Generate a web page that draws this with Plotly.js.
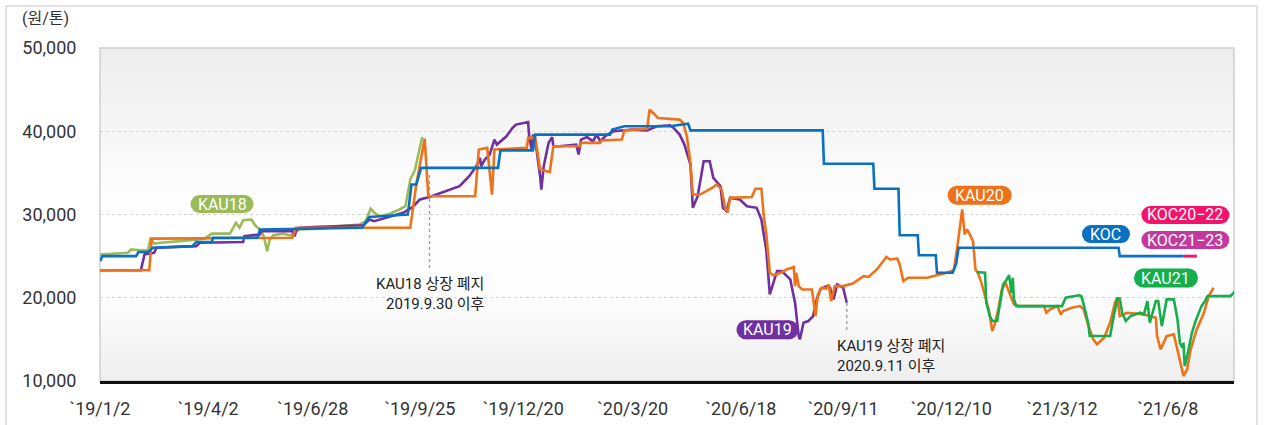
<!DOCTYPE html>
<html>
<head>
<meta charset="utf-8">
<script src="https://cdn.plot.ly/plotly-3.0.1.min.js"></script>
<style>
  html, body { margin: 0; padding: 0; background: #ffffff; }
  #chart { width: 1264px; height: 425px; }
</style>
</head>
<body>
<div id="chart"></div>
<script>
// ---------------- DATA ----------------
const tickDates = ['2019-01-02','2019-04-02','2019-06-28','2019-09-25','2019-12-20','2020-03-20','2020-06-18','2020-09-11','2020-12-10','2021-03-12','2021-06-08'];
const tickLabels = ['`19/1/2','`19/4/2','`19/6/28','`19/9/25','`19/12/20','`20/3/20','`20/6/18','`20/9/11','`20/12/10','`21/3/12','`21/6/8'];
const yTicks = [10000, 20000, 30000, 40000, 50000];

const kau18Dates = ['2019-01-02','2019-01-25','2019-01-28','2019-02-04','2019-02-11','2019-02-13','2019-02-16','2019-02-21','2019-03-09','2019-03-17','2019-03-30','2019-04-05','2019-04-20','2019-04-25','2019-04-28','2019-05-01','2019-05-08','2019-05-11','2019-05-15','2019-05-18','2019-05-21','2019-05-23','2019-05-26','2019-06-03','2019-06-09','2019-06-13','2019-06-17','2019-07-04','2019-07-20','2019-08-06','2019-08-11','2019-08-15','2019-08-19','2019-08-23','2019-08-31','2019-09-08','2019-09-13','2019-09-17','2019-09-21','2019-09-24','2019-09-27'];
const kau18Values = [25200,25400,25800,25700,25700,27200,26500,26600,26800,26900,27100,27700,27700,29000,28400,29300,29400,28700,28200,27500,25600,26900,27500,27700,27500,27800,28200,28300,28600,28800,29200,30700,30100,29800,30100,30600,31000,34200,35400,37400,39300];

const kau19Dates = ['2019-01-02','2019-02-05','2019-02-08','2019-02-16','2019-02-18','2019-03-23','2019-03-26','2019-05-01','2019-05-02','2019-05-15','2019-05-16','2019-06-11','2019-06-13','2019-06-14','2019-06-17','2019-06-28','2019-08-09','2019-08-14','2019-08-18','2019-08-23','2019-09-03','2019-09-11','2019-09-18','2019-09-25','2019-10-03','2019-10-12','2019-10-17','2019-10-28','2019-11-05','2019-11-11','2019-11-14','2019-11-15','2019-11-18','2019-11-22','2019-11-26','2019-11-28','2019-12-06','2019-12-11','2019-12-14','2019-12-23','2019-12-24','2019-12-25','2019-12-27','2019-12-28','2019-12-31','2020-01-03','2020-01-04','2020-01-06','2020-01-10','2020-01-13','2020-01-14','2020-01-19','2020-02-02','2020-02-04','2020-02-06','2020-02-11','2020-02-16','2020-02-19','2020-02-22','2020-02-27','2020-03-04','2020-03-20','2020-04-01','2020-04-09','2020-04-20','2020-04-23','2020-04-28','2020-05-02','2020-05-07','2020-05-09','2020-05-13','2020-05-18','2020-05-23','2020-05-26','2020-06-01','2020-06-03','2020-06-06','2020-06-09','2020-06-17','2020-06-23','2020-07-01','2020-07-05','2020-07-09','2020-07-12','2020-07-15','2020-07-18','2020-07-22','2020-07-29','2020-08-02','2020-08-05','2020-08-06','2020-08-09','2020-08-13','2020-08-17','2020-08-20','2020-08-23','2020-08-28','2020-08-31','2020-09-03','2020-09-06','2020-09-11','2020-09-14'];
const kau19Values = [23300,23300,25200,25400,26000,26200,26600,26700,27400,27600,28000,28000,27400,28100,28400,28500,28700,29400,29200,29400,29800,30200,30800,31800,32100,32600,32800,33400,34600,35800,36800,35800,36600,37200,39000,38400,39400,40400,40800,41000,41100,39200,37800,39600,37800,34600,33000,35800,38600,39300,38200,38200,38400,37200,39000,39300,38800,39600,38800,39500,40000,40200,40100,40600,40700,40400,39600,38400,36000,30800,32200,36400,36400,34400,33400,30800,30400,32000,31800,31000,30800,29400,25800,20400,21800,23200,23200,22200,19400,15400,15000,17000,17200,17800,19800,21000,21400,21200,19800,21600,21200,19400];

const kau20Dates = ['2019-01-02','2019-02-12','2019-02-14','2019-06-11','2019-06-14','2019-09-17','2019-09-22','2019-09-29','2019-10-02','2019-11-10','2019-11-13','2019-11-20','2019-11-24','2019-11-26','2019-12-23','2019-12-24','2019-12-30','2020-01-03','2020-01-11','2020-01-14','2020-02-05','2020-02-06','2020-02-22','2020-02-23','2020-03-11','2020-03-13','2020-04-01','2020-04-03','2020-04-06','2020-04-10','2020-04-28','2020-05-01','2020-05-04','2020-05-07','2020-05-09','2020-05-15','2020-05-25','2020-05-29','2020-06-02','2020-06-05','2020-06-07','2020-06-09','2020-06-27','2020-06-30','2020-07-05','2020-07-07','2020-07-09','2020-07-12','2020-07-15','2020-07-21','2020-07-26','2020-08-01','2020-08-02','2020-08-03','2020-08-05','2020-08-08','2020-08-16','2020-08-19','2020-08-21','2020-08-24','2020-08-28','2020-08-30','2020-09-01','2020-09-04','2020-09-11','2020-09-19','2020-09-28','2020-10-02','2020-10-09','2020-10-17','2020-10-20','2020-10-26','2020-10-28','2020-10-31','2020-11-04','2020-11-20','2020-12-06','2020-12-12','2020-12-15','2020-12-17','2020-12-19','2020-12-21','2020-12-23','2020-12-26','2020-12-28','2020-12-30','2021-01-01','2021-01-04','2021-01-07','2021-01-10','2021-01-13','2021-01-15','2021-01-18','2021-01-21','2021-01-24','2021-01-28','2021-01-31','2021-02-04','2021-02-25','2021-02-27','2021-03-02','2021-03-08','2021-03-11','2021-03-13','2021-03-20','2021-03-27','2021-03-30','2021-04-03','2021-04-07','2021-04-10','2021-04-16','2021-04-21','2021-04-25','2021-04-27','2021-04-29','2021-05-05','2021-05-19','2021-05-29','2021-05-30','2021-06-02','2021-06-07','2021-06-13','2021-06-17','2021-06-21','2021-06-24','2021-06-27','2021-07-02','2021-07-08','2021-07-12','2021-07-16'];
const kau20Values = [23300,23300,27100,27200,28400,28400,33600,39100,32200,32200,37800,38000,32400,37800,38000,39200,39200,35400,35100,38200,38200,38600,38600,38900,39000,40100,40300,42600,42200,41600,41400,41000,39400,36200,32400,32400,33200,33600,33000,30600,30400,32000,32100,33100,33100,29800,27800,23000,22700,23000,23400,23700,21400,23000,21400,21000,21000,17800,20400,21200,21100,21600,19600,21400,21400,21700,22600,22500,23400,24900,24600,24700,24000,22000,22400,22400,23000,23300,26200,28200,30600,27600,28200,27400,26800,23400,23000,21800,20200,18600,16000,16800,18600,21000,21800,20200,19200,19000,19000,18200,18600,19000,18000,18400,18800,19000,18600,16600,15000,14400,15200,17000,19400,20000,17800,18200,18000,17600,15400,13800,15400,15600,13000,10600,11400,13800,16200,18200,20200,21200];

const kau21Dates = ['2020-12-31','2021-01-07','2021-01-08','2021-01-11','2021-01-13','2021-01-17','2021-01-20','2021-01-22','2021-01-25','2021-01-27','2021-01-29','2021-01-30','2021-01-31','2021-02-02','2021-03-12','2021-03-15','2021-03-26','2021-03-28','2021-03-30','2021-04-03','2021-04-04','2021-04-21','2021-04-24','2021-04-27','2021-04-29','2021-05-01','2021-05-04','2021-05-08','2021-05-16','2021-05-19','2021-05-22','2021-05-24','2021-05-29','2021-05-31','2021-06-03','2021-06-07','2021-06-13','2021-06-16','2021-06-18','2021-06-20','2021-06-21','2021-06-22','2021-06-25','2021-06-28','2021-07-01','2021-07-04','2021-07-06','2021-07-09','2021-07-11','2021-07-13','2021-07-30','2021-08-03'];
const kau21Values = [23100,23000,19400,17800,17200,17200,19800,21600,22200,22700,20600,22400,19800,19000,19000,20000,20300,20200,19200,16800,15400,15400,17800,19900,19900,18200,17200,17800,18200,18000,19600,17000,19600,19600,16600,19800,19800,17400,14600,14000,14600,11800,13600,15800,17200,18200,19000,19600,20200,20200,20200,20800];

const kocDates = ['2019-01-02','2019-01-04','2019-02-01','2019-02-03','2019-02-11','2019-02-15','2019-03-20','2019-03-23','2019-04-05','2019-04-06','2019-05-13','2019-05-15','2019-08-08','2019-08-14','2019-09-15','2019-09-18','2019-09-22','2019-09-26','2019-11-29','2019-12-01','2019-12-28','2019-12-30','2020-03-01','2020-03-03','2020-03-13','2020-04-20','2020-05-05','2020-05-07','2020-08-25','2020-08-26','2020-10-06','2020-10-07','2020-10-27','2020-10-28','2020-11-12','2020-11-13','2020-11-27','2020-11-28','2020-12-11','2020-12-14','2020-12-16','2021-04-28','2021-04-29','2021-06-21'];
const kocValues = [24400,25000,25000,25500,25500,26000,26200,26700,26700,27200,27200,28200,28400,29700,30000,33600,33600,35600,35600,37700,37700,39600,39600,40200,40600,40600,40900,40100,40100,36100,36100,33100,33100,27500,27500,25100,25100,23000,23000,24100,26000,26000,25000,25000];

const koc2022Dates = ['2021-06-21','2021-07-02'];
const koc2022Values = [25000,25000];
const koc2123Dates = ['2021-06-21','2021-07-02'];
const koc2123Values = [25000,25000];

const seriesNames = ['KAU18','KAU19','KAU20','KAU21','KOC','KOC20-22','KOC21-23'];

// ---------------- STYLE ----------------
const colors = {
  'KAU18': '#9bbb59', 'KAU19': '#7030a0', 'KAU20': '#ee7219', 'KAU21': '#14ae4c',
  'KOC': '#0a71c1', 'KOC20-22': '#f3136b', 'KOC21-23': '#c33a9f'
};
const LW = 2.6;
function tr(name, x, y) {
  return { type: 'scatter', mode: 'lines', name: name, x: x, y: y,
    line: { color: colors[name], width: LW }, hoverinfo: 'skip' };
}
const traces = [
  tr('KAU18', kau18Dates, kau18Values),
  tr('KAU19', kau19Dates, kau19Values),
  tr('KAU20', kau20Dates, kau20Values),
  tr('KAU21', kau21Dates, kau21Values),
  tr('KOC', kocDates, kocValues),
  tr('KOC21-23', koc2123Dates, koc2123Values),
  tr('KOC20-22', koc2022Dates, koc2022Values)
];

// pill labels (paper coords, pixel sizes)
const pills = [
  { t: 'KAU18', x: 0.1076, y: 0.5315, w: 63, h: 18 },
  { t: 'KAU19', x: 0.5886, y: 0.1541, w: 62, h: 19 },
  { t: 'KAU20', x: 0.7757, y: 0.5577, w: 64, h: 19 },
  { t: 'KOC', x: 0.8871, y: 0.4414, w: 48, h: 18 },
  { t: 'KOC20-22', x: 0.9571, y: 0.4985, w: 88, h: 18 },
  { t: 'KOC21-23', x: 0.9571, y: 0.4234, w: 88, h: 18 },
  { t: 'KAU21', x: 0.9400, y: 0.3093, w: 64, h: 19 }
];
const pillText = { 'KOC20-22': 'KOC20−22', 'KOC21-23': 'KOC21−23' };

const shapes = [];
const annotations = [];

// plot frame (gray) and outer frame
shapes.push({ type: 'rect', xref: 'paper', yref: 'paper', x0: 0, x1: 1, y0: 0, y1: 1,
  line: { color: '#cfcfcf', width: 1.5 }, fillcolor: 'rgba(0,0,0,0)', layer: 'below' });
shapes.push({ type: 'rect', xref: 'paper', yref: 'paper', x0: -0.0829, x1: 1.0203, y0: -0.2, y1: 1.1261,
  line: { color: '#e3e3e3', width: 2 }, fillcolor: 'rgba(0,0,0,0)', layer: 'below' });

// dotted leader lines
shapes.push({ type: 'line', xref: 'x', yref: 'paper', x0: '2019-10-03', x1: '2019-10-03', y0: 0.6186, y1: 0.3393,
  line: { color: '#9a9a9a', width: 1.3, dash: 'dot' } });
shapes.push({ type: 'line', xref: 'x', yref: 'paper', x0: '2020-09-14', x1: '2020-09-14', y0: 0.2342, y1: 0.1532,
  line: { color: '#9a9a9a', width: 1.3, dash: 'dot' } });

pills.forEach(p => {
  const c = colors[p.t];
  const r = p.h / 2;
  const hw = p.w / 2 - r;
  shapes.push({ type: 'rect', xref: 'paper', yref: 'paper', xsizemode: 'pixel', ysizemode: 'pixel',
    xanchor: p.x, yanchor: p.y, x0: -hw, x1: hw, y0: -r, y1: r,
    fillcolor: c, line: { width: 0 }, layer: 'above' });
  [-hw, hw].forEach(cx => {
    shapes.push({ type: 'circle', xref: 'paper', yref: 'paper', xsizemode: 'pixel', ysizemode: 'pixel',
      xanchor: p.x, yanchor: p.y, x0: cx - r, x1: cx + r, y0: -r, y1: r,
      fillcolor: c, line: { width: 0 }, layer: 'above' });
  });
  annotations.push({ xref: 'paper', yref: 'paper', x: p.x, y: p.y, xanchor: 'center', yanchor: 'middle',
    text: pillText[p.t] || p.t, showarrow: false,
    font: { family: 'Roboto, Arial, sans-serif', size: 16, color: '#ffffff' } });
});

annotations.push({ xref: 'paper', yref: 'paper', x: 0.3413, y: 0.2613, xanchor: 'right', yanchor: 'middle', align: 'right',
  text: 'KAU18 상장 폐지<br>2019.9.30 이후', showarrow: false,
  font: { family: 'Roboto, "Noto Sans CJK KR", sans-serif', size: 15, color: '#222222' } });
annotations.push({ xref: 'paper', yref: 'paper', x: 0.6481, y: 0.0751, xanchor: 'left', yanchor: 'middle', align: 'left',
  text: 'KAU19 상장 폐지<br>2020.9.11 이후', showarrow: false,
  font: { family: 'Roboto, "Noto Sans CJK KR", sans-serif', size: 15, color: '#222222' } });
annotations.push({ xref: 'paper', yref: 'paper', x: -0.0705, y: 1.09, xanchor: 'left', yanchor: 'middle',
  text: '(원/톤)', showarrow: false,
  font: { family: 'Roboto, "Noto Sans CJK KR", sans-serif', size: 16, color: '#333333' } });

const gradSvg = "<svg xmlns='http://www.w3.org/2000/svg' width='100' height='100' preserveAspectRatio='none'>" +
  "<defs><linearGradient id='g' x1='0' y1='0' x2='0' y2='1'>" +
  "<stop offset='0' stop-color='#ededed'/><stop offset='0.5' stop-color='#ffffff'/><stop offset='0.75' stop-color='#fdfdfd'/><stop offset='1' stop-color='#eeeeee'/>" +
  "</linearGradient></defs><rect width='100' height='100' fill='url(#g)'/></svg>";

const layout = {
  width: 1264, height: 425,
  margin: { l: 100, r: 30, t: 48, b: 44 },
  paper_bgcolor: '#ffffff',
  plot_bgcolor: 'rgba(0,0,0,0)',
  showlegend: false,
  font: { family: 'Roboto, Arial, sans-serif', color: '#333333' },
  images: [{ source: 'data:image/svg+xml;utf8,' + encodeURIComponent(gradSvg),
    xref: 'paper', yref: 'paper', x: 0, y: 1, sizex: 1, sizey: 1,
    xanchor: 'left', yanchor: 'top', sizing: 'stretch', layer: 'below' }],
  xaxis: {
    type: 'date', range: ['2019-01-02', '2021-08-02'],
    tickmode: 'array', tickvals: tickDates, ticktext: tickLabels,
    showgrid: false, zeroline: false,
    showline: true, linecolor: '#111111', linewidth: 2.5,
    ticks: 'outside', ticklen: 10, tickcolor: 'rgba(0,0,0,0)',
    tickfont: { family: 'Roboto, Arial, sans-serif', size: 18, color: '#333333' }
  },
  yaxis: {
    range: [10000, 50000],
    tickmode: 'array', tickvals: yTicks, tickformat: ',d',
    showgrid: true, gridcolor: '#d4d4d4', gridwidth: 1, griddash: 'dot',
    zeroline: false, showline: false,
    ticks: 'outside', ticklen: 19, tickcolor: 'rgba(0,0,0,0)',
    tickfont: { family: 'Roboto, Arial, sans-serif', size: 18, color: '#333333' }
  },
  shapes: shapes,
  annotations: annotations
};

Plotly.newPlot('chart', traces, layout, { displayModeBar: false, staticPlot: true });
</script>
</body>
</html>
